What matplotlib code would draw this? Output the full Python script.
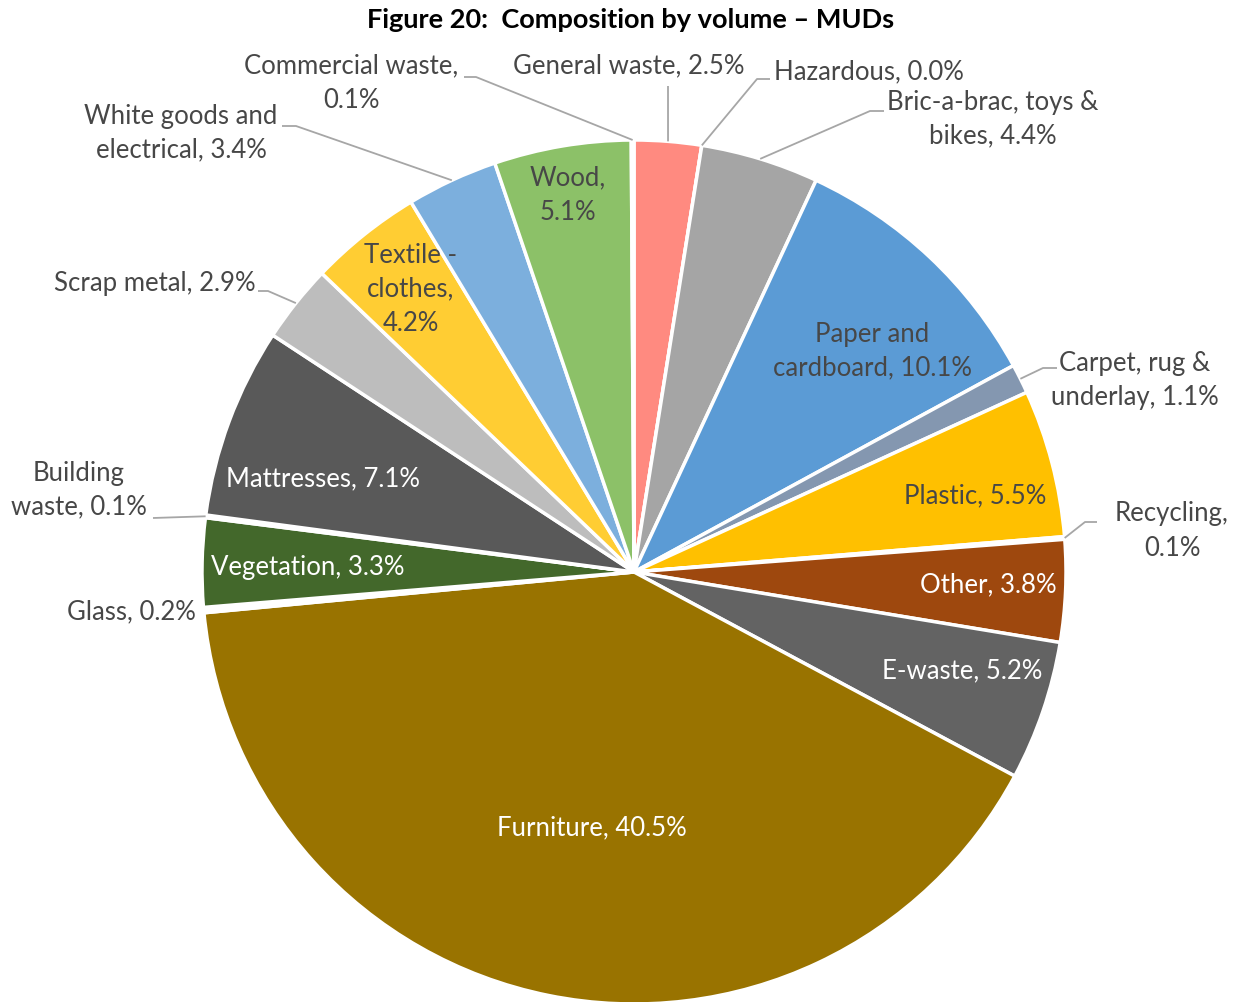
import numpy as np
import matplotlib
matplotlib.use("Agg")
import matplotlib.pyplot as plt

# Composition by volume - MUDs (clockwise from 12 o'clock)
categories = [
    "General waste", "Hazardous", "Bric-a-brac, toys & bikes",
    "Paper and cardboard", "Carpet, rug & underlay", "Plastic", "Recycling",
    "Other", "E-waste", "Furniture", "Glass", "Vegetation", "Building waste",
    "Mattresses", "Scrap metal", "Textile - clothes",
    "White goods and electrical", "Wood", "Commercial waste",
]
values = [2.5, 0.0, 4.4, 10.1, 1.1, 5.5, 0.1, 3.8, 5.2, 40.5, 0.2, 3.3, 0.1,
          7.1, 2.9, 4.2, 3.4, 5.1, 0.1]
# the tiny slices vanish under the white borders in the original
colors = ["#FF8A80", "white", "#A5A5A5", "#5B9BD5", "#8497B0", "#FFC000",
          "white", "#9E480E", "#636363", "#997300", "white", "#43682B",
          "white", "#595959", "#BDBDBD", "#FFCD33", "#7CAFDD", "#8CC168",
          "white"]

W, H = 1239, 1002
CX, CY, R = 634, 572, 432
FONT = "Lato"
FS = 18.5
TXT = "#474747"
LEAD = "#A6A6A6"


def px(x, y):
    # pixel position (from top-left) -> data units of the pie (radius 1)
    return (x - CX) / R, (CY - y) / R


def label(cat):
    v = values[categories.index(cat)]
    return f"{v:.1f}%"


# inside labels: text, pixel centre, colour
INSIDE = {
    "Wood": ("Wood,\n{}", (568, 195), TXT),
    "Paper and cardboard": ("Paper and\ncardboard, {}", (872, 351), TXT),
    "Plastic": ("Plastic, {}", (975, 496), TXT),
    "Other": ("Other, {}", (988, 585), "white"),
    "E-waste": ("E-waste, {}", (962, 671), "white"),
    "Furniture": ("Furniture, {}", (592, 828), "white"),
    "Vegetation": ("Vegetation, {}", (308, 568), "white"),
    "Mattresses": ("Mattresses, {}", (323, 479), "white"),
    "Textile - clothes": ("Textile -\nclothes,\n{}", (411, 289), TXT),
}

# outside labels: text, pixel anchor, ha, leader points after the rim
OUTSIDE = {
    "General waste": ("General waste, {}", (629, 66), "center", [(668, 86)]),
    "Hazardous": ("Hazardous, {}", (774, 72), "left", [(757, 79), (770, 79)]),
    "Bric-a-brac, toys & bikes": ("Bric-a-brac, toys &\nbikes, {}", (993, 119),
                                  "center", [(870, 111), (884, 111)]),
    "Carpet, rug & underlay": ("Carpet, rug &\nunderlay, {}", (1135, 380),
                               "center", [(1043, 368), (1057, 368)]),
    "Recycling": ("Recycling,\n{}", (1172, 531), "center",
                  [(1085, 522), (1097, 522)]),
    "Glass": ("Glass, {}", (196, 612), "right", []),
    "Building waste": ("Building\nwaste, {}", (79, 490), "center",
                       [(153, 518)]),
    "Scrap metal": ("Scrap metal, {}", (256, 283), "right",
                    [(268, 291), (258, 291)]),
    "White goods and electrical": ("White goods and\nelectrical, {}",
                                   (181, 133), "center",
                                   [(296, 126), (282, 126)]),
    "Commercial waste": ("Commercial waste,\n{}", (351, 83), "center",
                         [(476, 77), (464, 77)]),
}

fig = plt.figure(figsize=(W / 100, H / 100), dpi=100)
ax = fig.add_axes([0, 0, 1, 1])
wedges, _ = ax.pie(values, colors=colors, startangle=90, counterclock=False,
                   radius=1, center=(0, 0),
                   wedgeprops=dict(edgecolor="white", linewidth=2.5))
ax.set_xlim(-CX / R, (W - CX) / R)
ax.set_ylim((CY - H) / R, CY / R)
ax.set_aspect("equal")
ax.axis("off")

for cat, w in zip(categories, wedges):
    if cat in INSIDE:
        fmt, pos, col = INSIDE[cat]
        ax.text(*px(*pos), fmt.format(label(cat)), ha="center", va="center",
                color=col, fontsize=FS, family=FONT, linespacing=1.45)
    elif cat in OUTSIDE:
        fmt, pos, ha, pts = OUTSIDE[cat]
        ax.text(*px(*pos), fmt.format(label(cat)), ha=ha, va="center",
                color=TXT, fontsize=FS, family=FONT, linespacing=1.45)
        if pts:
            th = np.deg2rad((w.theta1 + w.theta2) / 2)
            xs = [np.cos(th)] + [px(*p)[0] for p in pts]
            ys = [np.sin(th)] + [px(*p)[1] for p in pts]
            ax.plot(xs, ys, color=LEAD, lw=1.3, solid_capstyle="butt")

fig.text(0.509, 1 - 20 / H, "Figure 20:  Composition by volume \u2013 MUDs",
         ha="center", va="center", fontsize=19.5, fontweight="bold",
         family=FONT, color="black")

fig.savefig("out.png", dpi=100)
